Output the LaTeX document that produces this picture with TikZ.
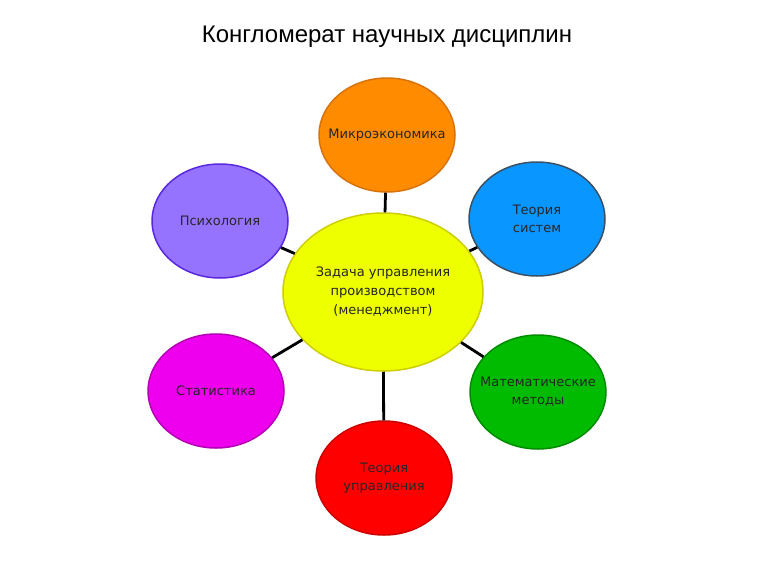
\documentclass[tikz,border=0pt]{standalone}
\usepackage{fontspec}
\setmainfont{DejaVu Sans}
\newfontfamily\titlefont{Liberation Sans}
\usepackage{tikz}
\usetikzlibrary{shapes.geometric}

\definecolor{coreFill}{RGB}{238,255,0}
\definecolor{coreEdge}{RGB}{205,205,0}
\definecolor{microFill}{RGB}{255,140,0}
\definecolor{microEdge}{RGB}{215,115,10}
\definecolor{psyFill}{RGB}{150,115,255}
\definecolor{psyEdge}{RGB}{90,40,220}
\definecolor{sysFill}{RGB}{10,150,255}
\definecolor{sysEdge}{RGB}{60,80,100}
\definecolor{statFill}{RGB}{238,0,238}
\definecolor{statEdge}{RGB}{180,0,180}
\definecolor{mathFill}{RGB}{0,187,0}
\definecolor{mathEdge}{RGB}{0,140,0}
\definecolor{ctrlFill}{RGB}{255,0,0}
\definecolor{ctrlEdge}{RGB}{205,0,0}

\begin{document}
\begin{tikzpicture}[x=1pt, y=-1pt,
    disc/.style={ellipse, draw, line width=1.5, inner ysep=0, inner xsep=-20,
      minimum width=136, minimum height=114, align=center,
      font=\fontsize{13}{18}\selectfont, text=black!85},
    link/.style={line width=2.8, black}]
    \useasboundingbox (0,0) rectangle (771,573);
    \node (title) at (387,37) {\titlefont\fontsize{24}{28}\selectfont Конгломерат научных дисциплин};
    \node[disc, fill=coreFill, draw=coreEdge, minimum width=200, minimum height=158,
      font=\fontsize{13}{19}\selectfont] (core) at (383,292)
      {Задача управления\\производством\\(менеджмент)};
    \node[disc, fill=microFill, draw=microEdge] (micro) at (387,135) {Микроэкономика};
    \node[disc, fill=psyFill, draw=psyEdge] (psy) at (220,221) {Психология};
    \node[disc, fill=sysFill, draw=sysEdge] (sys) at (537,219) {Теория\\систем};
    \node[disc, fill=statFill, draw=statEdge] (stat) at (216,391) {Статистика};
    \node[disc, fill=mathFill, draw=mathEdge] (math) at (538,392) {Математические\\методы};
    \node[disc, fill=ctrlFill, draw=ctrlEdge] (ctrl) at (384,478) {Теория\\управления};
    \foreach \sat in {micro, psy, sys, stat, math, ctrl}
      \draw[link] (core) -- (\sat);
  \end{tikzpicture}
\end{document}
